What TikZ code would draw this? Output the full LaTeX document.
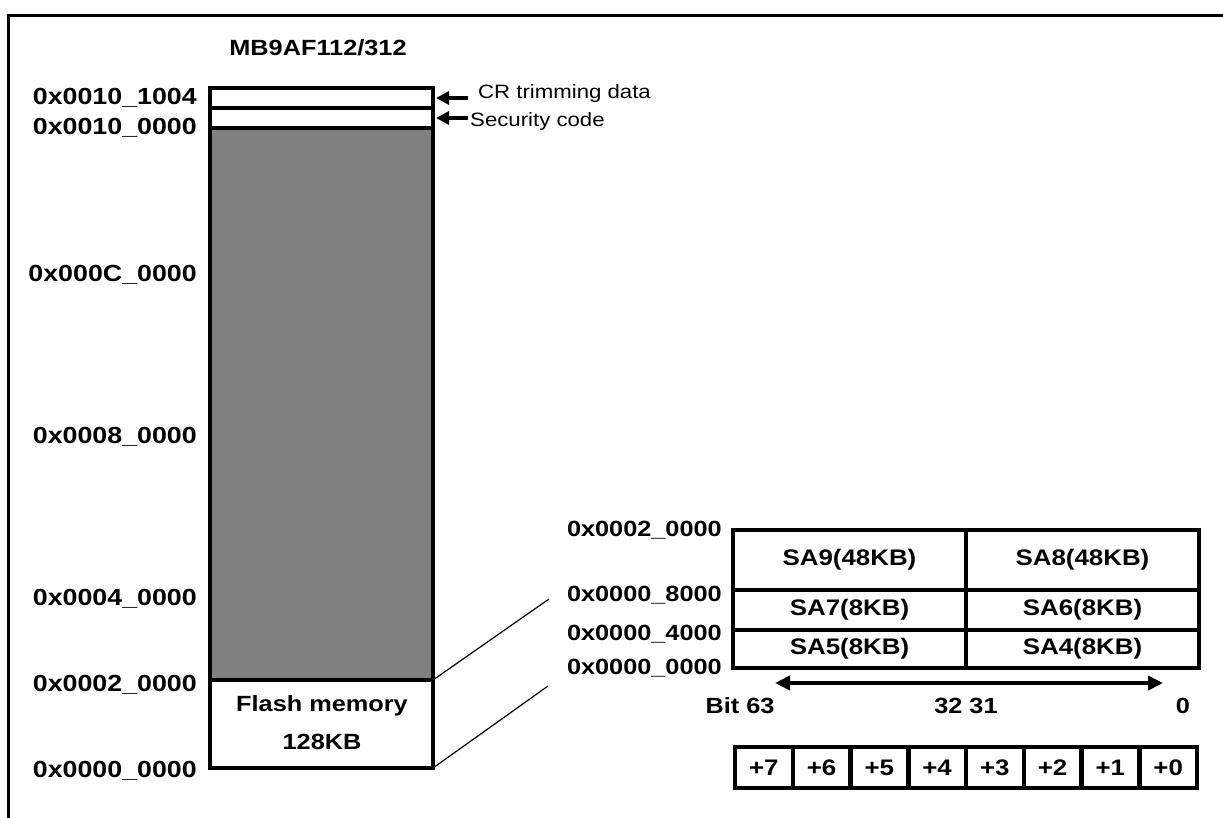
\documentclass[tikz,border=0pt]{standalone}
\usepackage{fontspec}
\setmainfont{Liberation Sans}[FakeStretch=1.15]
\usetikzlibrary{arrows.meta}
\definecolor{memgray}{RGB}{128,128,128}
\tikzset{
  lbl/.style={font=\fontsize{22}{24}\selectfont\bfseries, inner sep=0pt},
  addr/.style={font=\fontsize{23.3}{25}\selectfont\bfseries, inner sep=0pt, anchor=base east},
  taddr/.style={font=\fontsize{22}{24}\selectfont\bfseries, inner sep=0pt, anchor=base east},
  small/.style={font=\fontsize{19.3}{21}\selectfont, inner sep=0pt},
  blk/.style={draw=black, line width=4.5pt, inner sep=0pt, outer sep=0pt},
  cell/.style={blk, font=\fontsize{22.5}{24}\selectfont\bfseries},
  ptr/.style={line width=3.5pt, -{Triangle[length=13pt,width=13pt]}},
  dptr/.style={line width=4pt, {Triangle[length=15pt,width=14pt]}-{Triangle[length=15pt,width=14pt]}},
  zoomln/.style={line width=1.2pt},
}
\begin{document}
\begin{tikzpicture}[x=1pt,y=-1pt]
\useasboundingbox (0,0) rectangle (1223,818);
% frame
\draw[line width=3pt] (1223,16) -- (8,16) -- (8,818);
% title
\node[lbl, anchor=base] (title) at (318,56) {MB9AF112/312};
% memory column
\node[blk, fill=memgray, minimum width=223pt, minimum height=552pt] (rest) at (321.5,404) {};
\node[blk, fill=white, minimum width=223pt, minimum height=20pt] (cr) at (321.5,98) {};
\node[blk, fill=white, minimum width=223pt, minimum height=20pt] (sec) at (321.5,118) {};
\node[blk, fill=white, minimum width=223pt, minimum height=88pt] (flash) at (321.5,724) {};
\node[lbl, anchor=base] (fl1) at (322,711) {Flash memory};
\node[lbl, anchor=base] (fl2) at (322,749) {128KB};
% addresses
\node[addr] (a1) at (197,105) {0x0010\_1004};
\node[addr] (a2) at (197,135) {0x0010\_0000};
\node[addr] (a3) at (197,281) {0x000C\_0000};
\node[addr] (a4) at (197,443) {0x0008\_0000};
\node[addr] (a5) at (197,605) {0x0004\_0000};
\node[addr] (a6) at (197,691) {0x0002\_0000};
\node[addr] (a7) at (197,777) {0x0000\_0000};
% pointers
\coordinate (crtail) at (468,98);
\coordinate (sectail) at (468,118);
\draw[ptr, shorten >=3pt] (crtail) -- (cr.east);
\draw[ptr, shorten >=3pt] (sectail) -- (sec.east);
\node[small, anchor=base west] (crt) at (478,99) {CR trimming data};
\node[small, anchor=base west] (sct) at (470,127) {Security code};
% zoom lines
\coordinate (z1) at (549,599);
\coordinate (z2) at (548,686);
\draw[zoomln] (flash.north east) -- (z1);
\draw[zoomln] (flash.south east) -- (z2);
% sector table
\node[cell, minimum width=233pt, minimum height=60pt] (sa9) at (849.5,560) {SA9(48KB)};
\node[cell, minimum width=233pt, minimum height=60pt] (sa8) at (1082.5,560) {SA8(48KB)};
\node[cell, minimum width=233pt, minimum height=40pt] (sa7) at (849.5,610) {SA7(8KB)};
\node[cell, minimum width=233pt, minimum height=40pt] (sa6) at (1082.5,610) {SA6(8KB)};
\node[cell, minimum width=233pt, minimum height=38pt] (sa5) at (849.5,649) {SA5(8KB)};
\node[cell, minimum width=233pt, minimum height=38pt] (sa4) at (1082.5,649) {SA4(8KB)};
\node[taddr] (t1) at (722,536) {0x0002\_0000};
\node[taddr] (t2) at (722,601) {0x0000\_8000};
\node[taddr] (t3) at (722,640) {0x0000\_4000};
\node[taddr] (t4) at (722,674) {0x0000\_0000};
% bit arrow
\coordinate (bl) at (775,683);
\coordinate (br) at (1163,683);
\draw[dptr] (bl) -- (br);
\node[lbl, anchor=base] (b63) at (740,713) {Bit 63};
\node[lbl, anchor=base] (b32) at (966,713) {32 31};
\node[lbl, anchor=base] (b0) at (1183,713) {0};
% byte row
\foreach \i in {0,...,7}{
  \pgfmathtruncatemacro\lab{7-\i}
  \node[cell, font=\fontsize{22.5}{24}\selectfont\bfseries, minimum width=57.75pt, minimum height=41pt] (byte\lab) at ({763.875+57.75*\i},767.5) {+\lab};
}
\end{tikzpicture}
\end{document}
